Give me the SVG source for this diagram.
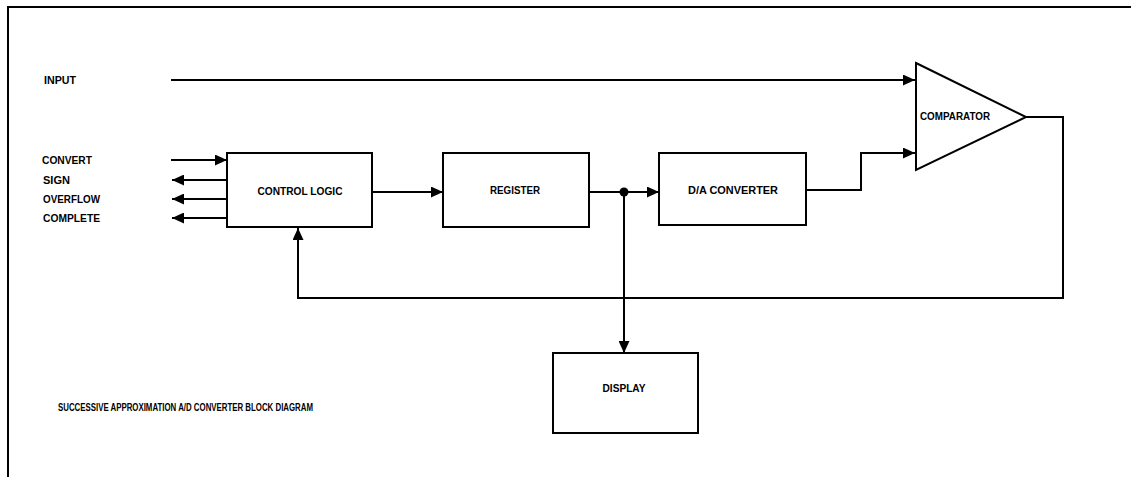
<svg xmlns="http://www.w3.org/2000/svg" width="1131" height="477" viewBox="0 0 1131 477">
<style>
  .ln{fill:none;stroke:#000;stroke-width:2}
  .box{fill:#fff;stroke:#000;stroke-width:2}
  .t{font-family:"Liberation Sans",Arial,sans-serif;font-weight:bold;font-size:11px;fill:#000}
</style>
<defs>
  <marker id="ah" markerUnits="userSpaceOnUse" markerWidth="13" markerHeight="11" refX="12" refY="5.5" orient="auto">
    <path d="M0,0 L12,5.5 L0,11 z" fill="#000"/>
  </marker>
</defs>
<rect width="1131" height="477" fill="#fff"/>
<g id="frame">
  <path class="ln" d="M8,477 L8,7 L1131,7"/>
</g>
<g id="labels">
  <text class="t" x="44" y="84" textLength="32" lengthAdjust="spacingAndGlyphs">INPUT</text>
  <text class="t" x="42" y="164" textLength="50" lengthAdjust="spacingAndGlyphs">CONVERT</text>
  <text class="t" x="43" y="184" textLength="27" lengthAdjust="spacingAndGlyphs">SIGN</text>
  <text class="t" x="43" y="203" textLength="57" lengthAdjust="spacingAndGlyphs">OVERFLOW</text>
  <text class="t" x="43" y="222" textLength="57" lengthAdjust="spacingAndGlyphs">COMPLETE</text>
  <text class="t" x="58" y="411" textLength="255" lengthAdjust="spacingAndGlyphs">SUCCESSIVE APPROXIMATION A/D CONVERTER BLOCK DIAGRAM</text>
</g>
<g id="connectors">
  <path class="ln" d="M171,80 L915,80" marker-end="url(#ah)"/>
  <path class="ln" d="M171,160 L227,160" marker-end="url(#ah)"/>
  <path class="ln" d="M227,180 L172,180" marker-end="url(#ah)"/>
  <path class="ln" d="M227,199 L172,199" marker-end="url(#ah)"/>
  <path class="ln" d="M227,218 L172,218" marker-end="url(#ah)"/>
  <path class="ln" d="M372,192 L443,192" marker-end="url(#ah)"/>
  <path class="ln" d="M589,192 L659,192" marker-end="url(#ah)"/>
  <circle cx="624" cy="192" r="4.5" fill="#000"/>
  <path class="ln" d="M624,192 L624,353" marker-end="url(#ah)"/>
  <path class="ln" d="M806,190 L861,190 L861,153 L915,153" marker-end="url(#ah)"/>
  <path class="ln" d="M1026,117 L1063,117 L1063,298 L298,298 L298,228" marker-end="url(#ah)"/>
</g>
<g id="control-logic">
  <rect class="box" x="227" y="153" width="145" height="74"/>
  <text class="t" x="300" y="195" text-anchor="middle" textLength="85" lengthAdjust="spacingAndGlyphs">CONTROL LOGIC</text>
</g>
<g id="register">
  <rect class="box" x="443" y="153" width="146" height="74"/>
  <text class="t" x="515" y="194" text-anchor="middle" textLength="50" lengthAdjust="spacingAndGlyphs">REGISTER</text>
</g>
<g id="da-converter">
  <rect class="box" x="659" y="153" width="147" height="72"/>
  <text class="t" x="733" y="194" text-anchor="middle" textLength="90" lengthAdjust="spacingAndGlyphs">D/A CONVERTER</text>
</g>
<g id="comparator">
  <path class="box" d="M916,63 L1026,117 L916,170 z"/>
  <text class="t" x="920" y="120" textLength="70" lengthAdjust="spacingAndGlyphs">COMPARATOR</text>
</g>
<g id="display">
  <rect class="box" x="553" y="353" width="145" height="80"/>
  <text class="t" x="624" y="392" text-anchor="middle" textLength="43" lengthAdjust="spacingAndGlyphs">DISPLAY</text>
</g>
</svg>
